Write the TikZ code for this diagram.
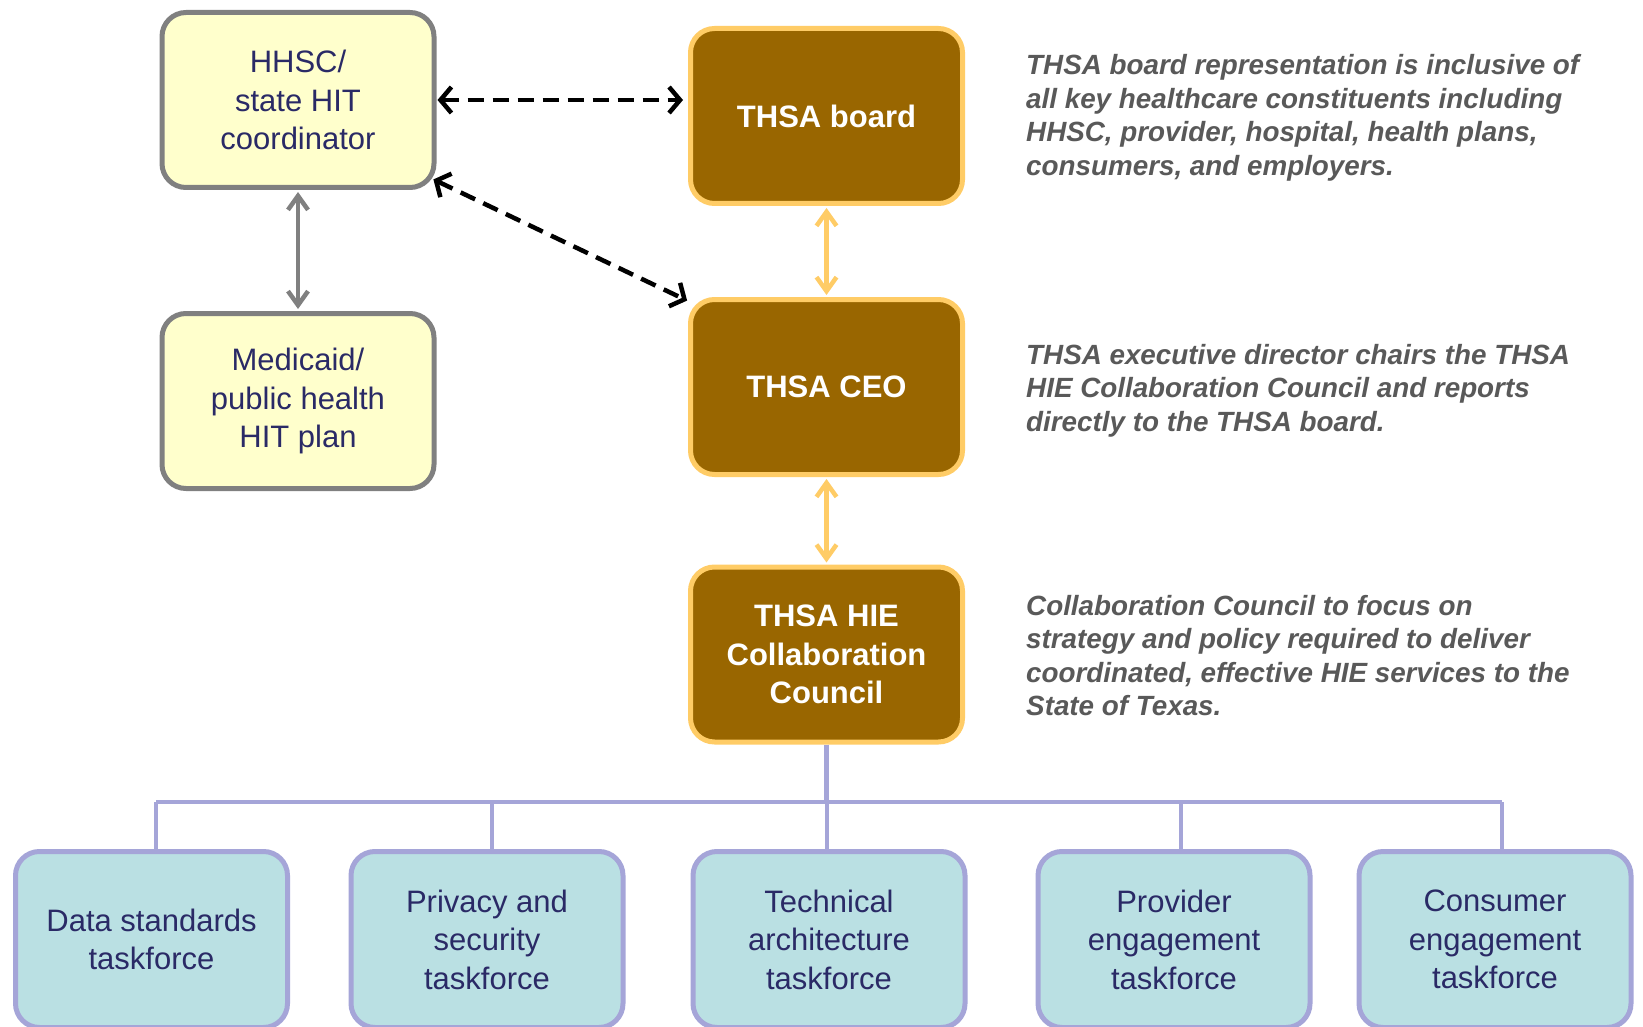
\documentclass[tikz,border=0pt]{standalone}
\usepackage{fontspec}
\setmainfont{Liberation Sans}
\usetikzlibrary{arrows.meta,calc}
\definecolor{yfill}{HTML}{FFFFCC}
\definecolor{gline}{HTML}{808080}
\definecolor{bfill}{HTML}{996600}
\definecolor{bline}{HTML}{FFCC66}
\definecolor{tfill}{HTML}{BAE0E3}
\definecolor{tline}{HTML}{A5A5D8}
\definecolor{navy}{HTML}{2A2A66}
\definecolor{notegrey}{HTML}{595959}
\begin{document}
\begin{tikzpicture}[x=1pt,y=-1pt,
 box/.style={rounded corners=24pt, line width=5pt, minimum width=272pt, minimum height=175pt, align=center, inner sep=0pt},
 ybox/.style={box, draw=gline, fill=yfill, text=navy, font=\fontsize{31}{38.5}\selectfont},
 bbox/.style={box, draw=bline, fill=bfill, text=white, font=\bfseries\fontsize{31}{38.5}\selectfont},
 tbox/.style={box, draw=tline, fill=tfill, text=navy, font=\fontsize{31}{38.5}\selectfont, minimum height=176pt},
 notetext/.style={anchor=base west, align=left, inner sep=0pt, text=notegrey, font=\bfseries\itshape\fontsize{27.8}{33.5}\selectfont},
 dasharrow/.style={line width=4.5pt, dash pattern=on 16pt off 9pt, {Straight Barb[length=11pt,width=26pt]}-{Straight Barb[length=11pt,width=26pt]}},
 greyarrow/.style={draw=gline, line width=4.5pt, {Straight Barb[length=14pt,width=20pt]}-{Straight Barb[length=14pt,width=20pt]}},
 goldarrow/.style={draw=bline, line width=4.5pt, {Straight Barb[length=14pt,width=20pt]}-{Straight Barb[length=14pt,width=20pt]}},
 busline/.style={draw=tline, line width=4.5pt}
]
\clip (0,0) rectangle (1643,1027);
\fill[white] (0,0) rectangle (1643,1027);

% left boxes
\node[ybox] (hhsc) at (298,100) {HHSC/\\state HIT\\coordinator};
\node[ybox] (med) at (298,401) {Medicaid/\\public health\\HIT plan};

% centre column
\node[bbox] (board) at (826.5,116) {THSA board};
\node[bbox] (ceo) at (826.5,387) {THSA CEO};
\node[bbox] (council) at (826.5,654.5) {THSA HIE\\Collaboration\\Council};

% taskforces
\node[tbox] (data) at (151.5,939.5) {Data standards\\taskforce};
\node[tbox] (priv) at (487,939.5) {Privacy and\\security\\taskforce};
\node[tbox] (tech) at (829,939.5) {Technical\\architecture\\taskforce};
\node[tbox] (prov) at (1174,939.5) {Provider\\engagement\\taskforce};
\node[tbox] (cons) at (1495,939.5) {Consumer\\engagement\\taskforce};

% notes (anchored at the baseline of their last line)
\node[notetext] (n1) at (1026,175.5) {THSA board representation is inclusive of\\all key healthcare constituents including\\HHSC, provider, hospital, health plans,\\consumers, and employers.};
\node[notetext] (n2) at (1026,431) {THSA executive director chairs the THSA\\HIE Collaboration Council and reports\\directly to the THSA board.};
\node[notetext] (n3) at (1026,715.5) {Collaboration Council to focus on\\strategy and policy required to deliver\\coordinated, effective HIE services to the\\State of Texas.};

% connectors
\draw[dasharrow, shorten <=1pt, shorten >=5pt] (hhsc.east) -- (hhsc.east -| board.west);
\draw[dasharrow, shorten <=1pt, shorten >=1pt] ([shift={(-4,-11)}]hhsc.south east) -- ([shift={(0,4)}]ceo.north west);
\draw[greyarrow, shorten <=2pt, shorten >=2pt] (hhsc.south) -- (med.north);
\draw[goldarrow, shorten <=2pt, shorten >=2pt] (board.south) -- (ceo.north);
\draw[goldarrow, shorten <=2pt, shorten >=2pt] (ceo.south) -- (council.north);

% bus
\coordinate (busL) at (156,802);
\coordinate (busR) at (1502,802);
\draw[busline] (council.south) -- (council.south |- busL);
\draw[busline] (busL) -- (busR);
\draw[busline] ([xshift=4.5pt]data.north) -- ([xshift=4.5pt]data.north |- busL);
\draw[busline] ([xshift=5pt]priv.north) -- ([xshift=5pt]priv.north |- busL);
\draw[busline] ([xshift=-2pt]tech.north) -- ([xshift=-2pt]tech.north |- busL);
\draw[busline] ([xshift=7pt]prov.north) -- ([xshift=7pt]prov.north |- busL);
\draw[busline] ([xshift=7pt]cons.north) -- ([xshift=7pt]cons.north |- busL);
\end{tikzpicture}
\end{document}
